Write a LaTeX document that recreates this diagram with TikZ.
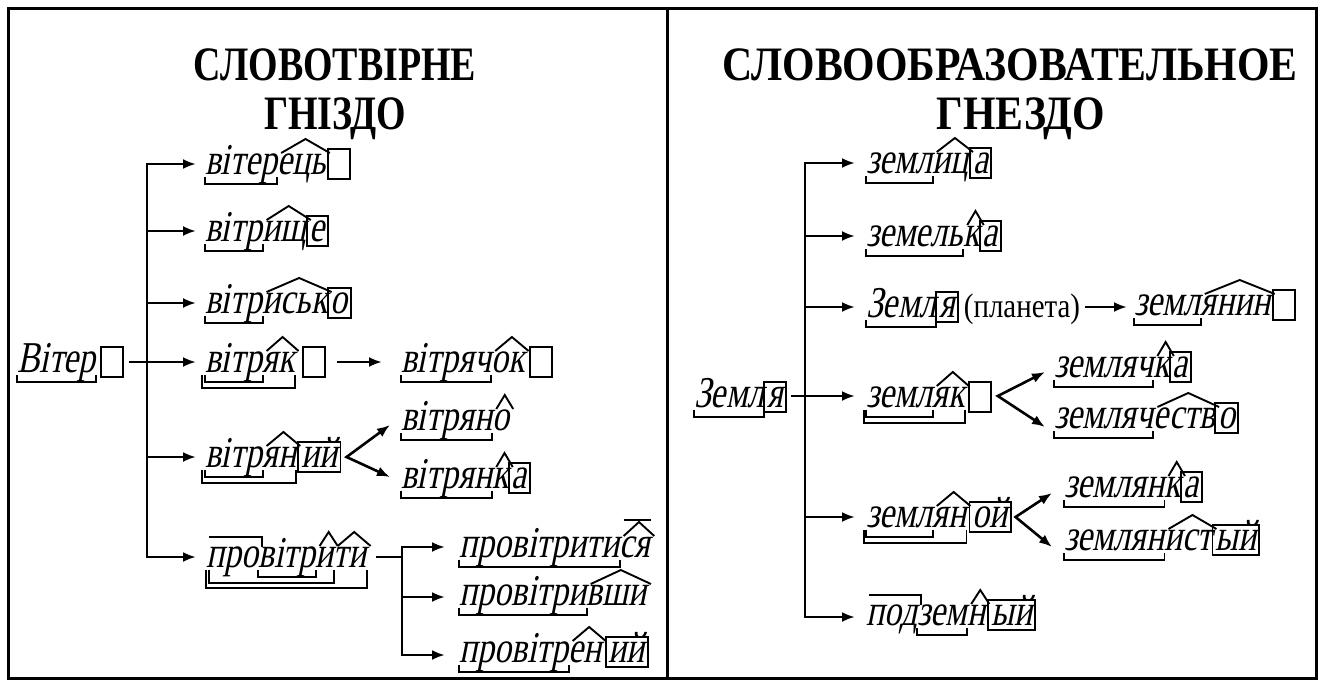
\documentclass[tikz,border=0pt]{standalone}
\usepackage{fontspec}
\setmainfont{Liberation Serif}
\newfontfamily\wit[FakeStretch=0.77,FakeSlant=0.2]{Liberation Serif}
\newfontfamily\wup[FakeStretch=0.85]{Liberation Serif}
\newfontfamily\tfam[FakeStretch=0.79]{Liberation Serif Bold}
\newfontfamily\tfamb[FakeStretch=0.87]{Liberation Serif Bold}
\usetikzlibrary{arrows.meta,calc}

\newcommand\eseg[1]{\hspace*{3pt}#1\hspace*{3pt}}
\newcommand\gseg[1][5]{\hspace*{#1pt}}
\newcommand\zseg{\hspace*{22pt}}

\tikzset{
 x=1pt, y=1pt,
 >={Latex[length=13pt,width=10pt]},
 wd/.style={inner sep=0pt, outer sep=0pt, font=\wit\fontsize{44}{48}\selectfont},
 plt/.style={inner sep=0pt, outer sep=0pt, anchor=base west, font=\wup\fontsize{34}{38}\selectfont},
 ln/.style={line width=2.6pt},
 arr/.style={line width=2.6pt, ->},
 mk/.style={line width=1.9pt},
 ttl/.style={font=\tfam\fontsize{48}{52}\selectfont, inner sep=0pt, anchor=base},
 ttlb/.style={font=\tfamb\fontsize{48}{52}\selectfont, inner sep=0pt, anchor=base},
}

% word made of morpheme segments: [shift of baseline start from arrow tip]{name}{arrow tip}{segments}
\newcommand\mword[4][(10pt,-10pt)]{%
  \coordinate (#2) at #3;
  \node[inner sep=0pt,outer sep=0pt,anchor=base west] (#2-0) at ([shift={#1}]#2) {};
  \foreach \s [count=\i] in {#4}{%
    \pgfmathtruncatemacro\j{\i-1}%
    \node[wd,anchor=base west] (#2-\i) at (#2-\j.base east) {\s};
  }%
}
% root bracket: [left shift]{from}{to}{depth}
\newcommand\rootb[4][0]{%
  \draw[mk] ([shift={(#1pt,-3pt)}]#2.base west) -- ++(0,-#4+3) -| ([shift={(0pt,-3pt)}]#3.base east);}
% suffix arch
\newcommand\suffa[2]{%
  \draw[mk] ([shift={(4pt,21pt)}]#1.base west) -- ($([shift={(4pt,21pt)}]#1.base west)!.5!([shift={(4pt,21pt)}]#2.base east)+(0,14)$) -- ([shift={(4pt,21pt)}]#2.base east);}
% postfix mark
\newcommand\postf[2]{%
  \suffa{#1}{#2}%
  \draw[mk] ([shift={(4pt,37pt)}]#1.base west) -- ([shift={(1pt,37pt)}]#2.base east);}
% prefix mark
\newcommand\prefl[2]{%
  \draw[mk] ([shift={(3pt,30pt)}]#1.base west) -| ([shift={(4pt,20pt)}]#2.base east);}
% ending box
\newcommand\ebx[1]{%
  \draw[mk] ([shift={(0pt,-5pt)}]#1.base west) rectangle ([shift={(0pt,25pt)}]#1.base east);}

\begin{document}
\begin{tikzpicture}
\useasboundingbox (0,0) rectangle (1323,-680);
\draw[line width=3pt] (8,-8) rectangle (1316,-678);
\draw[line width=3pt] (667,-8) -- (667,-678);

% titles
\node[ttl] (t1) at (335,-80) {СЛОВОТВІРНЕ};
\node[ttl] (t2) at (335,-129) {ГНІЗДО};
\node[ttlb] (t3) at (1010,-80) {СЛОВООБРАЗОВАТЕЛЬНОЕ};
\node[ttlb] (t4) at (1021,-129) {ГНЕЗДО};

% ---------------- left panel ----------------
\mword[(8pt,-10pt)]{V0}{(8,-362)}{Вітер,\gseg,\zseg}
\rootb{V0-1}{V0-1}{10} \ebx{V0-3}

\mword[(8pt,-10pt)]{w1}{(196,-164)}{вітер,ець,\gseg[2],\zseg}
\rootb{w1-1}{w1-1}{10} \suffa{w1-2}{w1-2} \ebx{w1-4}

\mword[(8pt,-10pt)]{w2}{(196,-231)}{вітр,ищ,\eseg{е}}
\rootb{w2-1}{w2-1}{10} \suffa{w2-2}{w2-2} \ebx{w2-3}

\mword[(8pt,-10pt)]{w3}{(196,-303)}{вітр,иськ,\eseg{о}}
\rootb{w3-1}{w3-1}{10} \suffa{w3-2}{w3-2} \ebx{w3-3}

\mword[(8pt,-10pt)]{w4}{(196,-362)}{вітр,як,\gseg[8],\zseg}
\rootb{w4-1}{w4-1}{10} \rootb[-3]{w4-1}{w4-2}{16} \suffa{w4-2}{w4-2} \ebx{w4-4}

\mword[(18pt,-10pt)]{w5}{(382,-362)}{вітряч,ок,\gseg[5],\zseg}
\rootb{w5-1}{w5-1}{10} \suffa{w5-2}{w5-2} \ebx{w5-4}

\mword[(8pt,-10pt)]{w6}{(196,-457)}{вітр,ян,\gseg[2],\eseg{ий}}
\rootb{w6-1}{w6-1}{10} \rootb[-3]{w6-1}{w6-2}{16} \suffa{w6-2}{w6-2} \ebx{w6-4}

\mword[(10pt,-5pt)]{w7}{(390,-425)}{вітрян,о}
\rootb{w7-1}{w7-1}{10} \suffa{w7-2}{w7-2}

\mword[(10pt,-11pt)]{w8}{(390,-477)}{вітрян,к,\eseg{а}}
\rootb{w8-1}{w8-1}{10} \suffa{w8-2}{w8-2} \ebx{w8-3}

\mword[(9pt,-10pt)]{w9}{(196,-557)}{про,вітр,и,ти}
\prefl{w9-1}{w9-1} \rootb{w9-2}{w9-2}{10} \rootb[3]{w9-1}{w9-3}{16} \rootb{w9-1}{w9-4}{21}
\suffa{w9-3}{w9-3} \suffa{w9-4}{w9-4}

\mword[(13pt,-10pt)]{w10}{(445,-547)}{провітрити,ся}
\rootb{w10-1}{w10-1}{10} \postf{w10-2}{w10-2}

\mword[(13pt,-8pt)]{w11}{(445,-597)}{провітри,вши}
\rootb{w11-1}{w11-1}{10} \suffa{w11-2}{w11-2}

\mword[(13pt,-7pt)]{w12}{(445,-655)}{провітр,ен,\gseg[4],\eseg{ий}}
\rootb{w12-1}{w12-1}{10} \suffa{w12-2}{w12-2} \ebx{w12-4}

% connectors left
\coordinate (Lx) at (147,0);
\draw[ln,<->] (w1) -- (Lx |- w1) -- (Lx |- w9) -- (w9);
\foreach \n in {w2,w3,w6} \draw[arr] (Lx |- \n) -- (\n);
\draw[arr] ([xshift=6pt]V0-3.east |- V0) -- (w4);
\draw[arr] ([xshift=12pt]w4-4.east |- w4) -- (w5);
\draw[ln,<->] (w7) -- ([xshift=6pt]w6-4.east |- w6) -- (w8);
\coordinate (Px) at (402,0);
\draw[ln] ([xshift=9pt]w9-4.east |- w9) -- (Px |- w9);
\draw[ln,<->] (w10) -- (Px |- w10) -- (Px |- w12) -- (w12);
\draw[arr] (Px |- w11) -- (w11);

% ---------------- right panel ----------------
\mword{r1}{(855,-163)}{земл,иц,\gseg[1],\eseg{а}}
\rootb{r1-1}{r1-1}{10} \suffa{r1-2}{r1-2} \ebx{r1-4}

\mword{r2}{(855,-236)}{земель,к,\eseg{а}}
\rootb{r2-1}{r2-1}{10} \suffa{r2-2}{r2-2} \ebx{r2-3}

\mword{r3}{(855,-307)}{Земл,\eseg{я}}
\rootb{r3-1}{r3-1}{10} \ebx{r3-2}
\node[plt] (pl) at ([xshift=6pt]r3-2.base east) {(планета)};

\mword[(6pt,-8pt)]{r4}{(1127,-307)}{земл,янин,\gseg[2],\zseg}
\rootb{r4-1}{r4-1}{10} \suffa{r4-2}{r4-2} \ebx{r4-4}

\mword[(7pt,-11pt)]{r0}{(686,-396)}{Земл,\eseg{я}}
\rootb{r0-1}{r0-1}{10} \ebx{r0-2}

\mword[(10pt,-11pt)]{r5}{(855,-396)}{земл,як,\gseg[4],\zseg}
\rootb{r5-1}{r5-1}{10} \rootb[-2]{r5-1}{r5-2}{16} \suffa{r5-2}{r5-2} \ebx{r5-4}

\mword[(8pt,-5pt)]{r6}{(1045,-372)}{земляч,к,\eseg{а}}
\rootb{r6-1}{r6-1}{10} \suffa{r6-2}{r6-2} \ebx{r6-3}

\mword[(8pt,-1pt)]{r7}{(1045,-427)}{земляч,еств,\eseg{о}}
\rootb{r7-1}{r7-1}{10} \suffa{r7-2}{r7-2} \ebx{r7-3}

\mword{r8}{(855,-517)}{земл,ян,\gseg[3],\eseg{ой}}
\rootb{r8-1}{r8-1}{10} \rootb[-2]{r8-1}{r8-2}{16} \suffa{r8-2}{r8-2} \ebx{r8-4}

\mword[(11pt,-4pt)]{r9}{(1052,-493)}{землян,к,\eseg{а}}
\rootb{r9-1}{r9-1}{10} \suffa{r9-2}{r9-2} \ebx{r9-3}

\mword[(11pt,-3pt)]{r10}{(1052,-547)}{землян,ист,\eseg{ый}}
\rootb{r10-1}{r10-1}{10} \suffa{r10-2}{r10-2} \ebx{r10-3}

\mword[(10pt,-8pt)]{r11}{(855,-617)}{под,зем,н,\gseg[3],\eseg{ый}}
\prefl{r11-1}{r11-1} \rootb{r11-2}{r11-2}{10} \suffa{r11-3}{r11-3} \ebx{r11-5}

% connectors right
\coordinate (Rx) at (805,0);
\draw[ln,<->] (r1) -- (Rx |- r1) -- (Rx |- r11) -- (r11);
\foreach \n in {r2,r3,r8} \draw[arr] (Rx |- \n) -- (\n);
\draw[arr] ([xshift=5pt]r0-2.east |- r0) -- (r5);
\draw[arr] ([xshift=5pt]pl.east |- r4) -- (r4);
\draw[ln,<->] (r6) -- ([xshift=7pt]r5-4.east |- r5) -- (r7);
\draw[ln,<->] (r9) -- ([xshift=5pt]r8-4.east |- r8) -- (r10);
\end{tikzpicture}
\end{document}
